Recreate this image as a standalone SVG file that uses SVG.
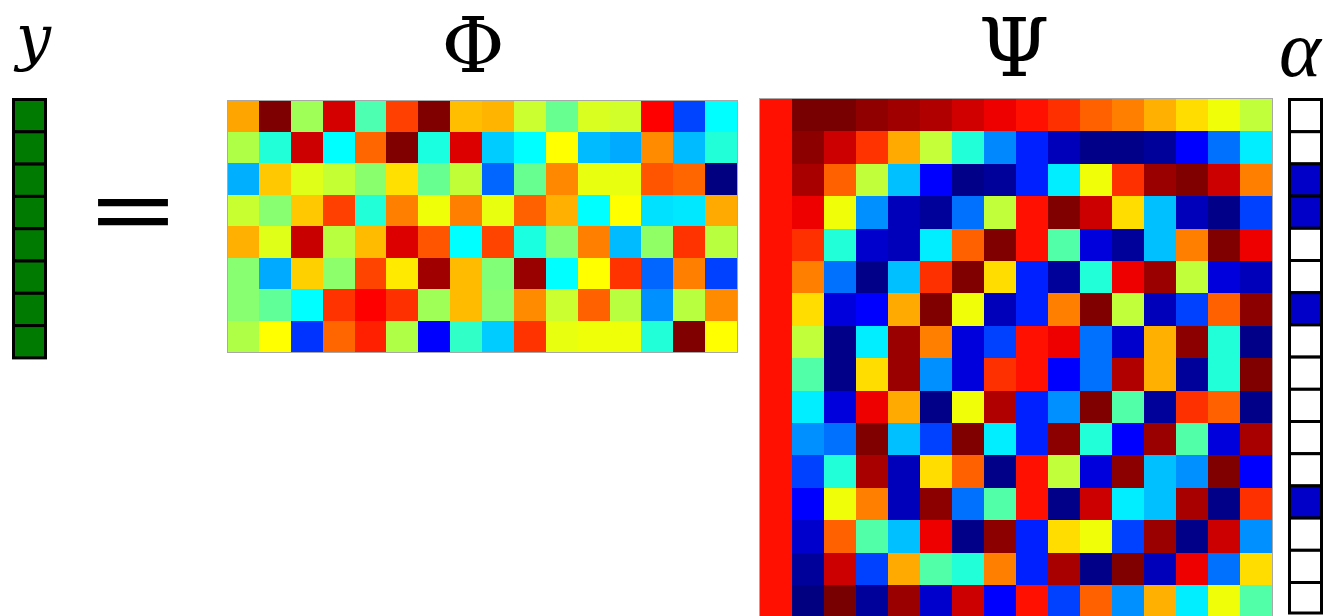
<svg xmlns="http://www.w3.org/2000/svg" width="1334" height="616" viewBox="0 0 1334 616">
<style>
.lbl{font-family:"DejaVu Serif","Liberation Serif",serif;fill:#000}
.lib{font-family:"Liberation Serif","DejaVu Serif",serif}
.it{font-style:italic}
.mat{shape-rendering:crispEdges}
.vec rect{stroke:#000;stroke-width:3}
.g{fill:#007a00}
.w{fill:#fff}
.b{fill:#0000c8}
.frame{fill:none;stroke:#a8a8a8;stroke-width:1}
</style>
<rect width="1334" height="616" fill="#fff"/>
<g id="connectors"/>
<g id="y-label"><text class="lbl it" x="16" y="58" font-size="62">y</text></g>
<g id="y-vector" class="vec">
<rect class="g" x="13.5" y="99.5" width="32" height="32.3"/>
<rect class="g" x="13.5" y="131.8" width="32" height="32.3"/>
<rect class="g" x="13.5" y="164.1" width="32" height="32.3"/>
<rect class="g" x="13.5" y="196.4" width="32" height="32.3"/>
<rect class="g" x="13.5" y="228.7" width="32" height="32.3"/>
<rect class="g" x="13.5" y="261" width="32" height="32.3"/>
<rect class="g" x="13.5" y="293.3" width="32" height="32.3"/>
<rect class="g" x="13.5" y="325.6" width="32" height="32.3"/>
</g>
<g id="equals"><text class="lbl lib" transform="translate(133,244) scale(1.5,1)" font-size="95" text-anchor="middle" stroke="#000" stroke-width="2.4">=</text></g>
<g id="phi-label"><text class="lbl" x="473" y="71.5" font-size="77" text-anchor="middle">Φ</text></g>
<g id="psi-label"><text class="lbl" x="1014" y="75.5" font-size="81" text-anchor="middle">Ψ</text></g>
<g id="alpha-label"><text class="lbl lib it" x="1279" y="76" font-size="80">α</text></g>
<g id="phi" class="mat">
<g transform="translate(0,100)">
<rect x="227" width="32" height="31.6" fill="#ffa500"/><rect x="258.875" width="32" height="31.6" fill="#7f0000"/><rect x="290.75" width="32" height="31.6" fill="#a0ff57"/><rect x="322.625" width="32" height="31.6" fill="#d40000"/><rect x="354.5" width="32" height="31.6" fill="#4dffb0"/><rect x="386.375" width="32" height="31.6" fill="#ff4000"/><rect x="418.25" width="32" height="31.6" fill="#800000"/><rect x="450.125" width="32" height="31.6" fill="#ffbf00"/><rect x="482" width="32" height="31.6" fill="#ffb400"/><rect x="513.875" width="32" height="31.6" fill="#ccff30"/><rect x="545.75" width="32" height="31.6" fill="#66ff90"/><rect x="577.625" width="32" height="31.6" fill="#d8ff20"/><rect x="609.5" width="32" height="31.6" fill="#d0ff2a"/><rect x="641.375" width="32" height="31.6" fill="#ff0000"/><rect x="673.25" width="32" height="31.6" fill="#0044ff"/><rect x="705.125" width="31.875" height="31.6" fill="#00ffff"/>
</g>
<g transform="translate(0,131.5)">
<rect x="227" width="32" height="31.6" fill="#b0ff47"/><rect x="258.875" width="32" height="31.6" fill="#20ffd8"/><rect x="290.75" width="32" height="31.6" fill="#cc0000"/><rect x="322.625" width="32" height="31.6" fill="#00ffff"/><rect x="354.5" width="32" height="31.6" fill="#ff6600"/><rect x="386.375" width="32" height="31.6" fill="#800000"/><rect x="418.25" width="32" height="31.6" fill="#1affe0"/><rect x="450.125" width="32" height="31.6" fill="#dd0000"/><rect x="482" width="32" height="31.6" fill="#00ccff"/><rect x="513.875" width="32" height="31.6" fill="#00ffff"/><rect x="545.75" width="32" height="31.6" fill="#ffff00"/><rect x="577.625" width="32" height="31.6" fill="#00bbff"/><rect x="609.5" width="32" height="31.6" fill="#00aaff"/><rect x="641.375" width="32" height="31.6" fill="#ff8c00"/><rect x="673.25" width="32" height="31.6" fill="#00bbff"/><rect x="705.125" width="31.875" height="31.6" fill="#20ffd8"/>
</g>
<g transform="translate(0,163)">
<rect x="227" width="32" height="31.6" fill="#00b0ff"/><rect x="258.875" width="32" height="31.6" fill="#ffc800"/><rect x="290.75" width="32" height="31.6" fill="#dfff18"/><rect x="322.625" width="32" height="31.6" fill="#c4ff33"/><rect x="354.5" width="32" height="31.6" fill="#8aff6d"/><rect x="386.375" width="32" height="31.6" fill="#ffe000"/><rect x="418.25" width="32" height="31.6" fill="#66ff90"/><rect x="450.125" width="32" height="31.6" fill="#c0ff37"/><rect x="482" width="32" height="31.6" fill="#0066ff"/><rect x="513.875" width="32" height="31.6" fill="#66ff90"/><rect x="545.75" width="32" height="31.6" fill="#ff8800"/><rect x="577.625" width="32" height="31.6" fill="#e8ff10"/><rect x="609.5" width="32" height="31.6" fill="#e8ff10"/><rect x="641.375" width="32" height="31.6" fill="#ff5500"/><rect x="673.25" width="32" height="31.6" fill="#ff6600"/><rect x="705.125" width="31.875" height="31.6" fill="#000080"/>
</g>
<g transform="translate(0,194.5)">
<rect x="227" width="32" height="31.6" fill="#c8ff30"/><rect x="258.875" width="32" height="31.6" fill="#88ff70"/><rect x="290.75" width="32" height="31.6" fill="#ffc800"/><rect x="322.625" width="32" height="31.6" fill="#ff4000"/><rect x="354.5" width="32" height="31.6" fill="#20ffd8"/><rect x="386.375" width="32" height="31.6" fill="#ff8000"/><rect x="418.25" width="32" height="31.6" fill="#efff08"/><rect x="450.125" width="32" height="31.6" fill="#ff8000"/><rect x="482" width="32" height="31.6" fill="#e8ff10"/><rect x="513.875" width="32" height="31.6" fill="#ff6000"/><rect x="545.75" width="32" height="31.6" fill="#ffb000"/><rect x="577.625" width="32" height="31.6" fill="#00ffff"/><rect x="609.5" width="32" height="31.6" fill="#ffff00"/><rect x="641.375" width="32" height="31.6" fill="#00e0ff"/><rect x="673.25" width="32" height="31.6" fill="#00e8ff"/><rect x="705.125" width="31.875" height="31.6" fill="#ffaa00"/>
</g>
<g transform="translate(0,226)">
<rect x="227" width="32" height="31.6" fill="#ffb000"/><rect x="258.875" width="32" height="31.6" fill="#e0ff18"/><rect x="290.75" width="32" height="31.6" fill="#c80000"/><rect x="322.625" width="32" height="31.6" fill="#b8ff40"/><rect x="354.5" width="32" height="31.6" fill="#ffbb00"/><rect x="386.375" width="32" height="31.6" fill="#dd0000"/><rect x="418.25" width="32" height="31.6" fill="#ff5500"/><rect x="450.125" width="32" height="31.6" fill="#00ffff"/><rect x="482" width="32" height="31.6" fill="#ff4400"/><rect x="513.875" width="32" height="31.6" fill="#1affe0"/><rect x="545.75" width="32" height="31.6" fill="#88ff70"/><rect x="577.625" width="32" height="31.6" fill="#ff8000"/><rect x="609.5" width="32" height="31.6" fill="#00bbff"/><rect x="641.375" width="32" height="31.6" fill="#90ff66"/><rect x="673.25" width="32" height="31.6" fill="#ff3300"/><rect x="705.125" width="31.875" height="31.6" fill="#b8ff40"/>
</g>
<g transform="translate(0,257.5)">
<rect x="227" width="32" height="31.6" fill="#88ff70"/><rect x="258.875" width="32" height="31.6" fill="#00aaff"/><rect x="290.75" width="32" height="31.6" fill="#ffd000"/><rect x="322.625" width="32" height="31.6" fill="#8cff6a"/><rect x="354.5" width="32" height="31.6" fill="#ff4400"/><rect x="386.375" width="32" height="31.6" fill="#ffea00"/><rect x="418.25" width="32" height="31.6" fill="#a00000"/><rect x="450.125" width="32" height="31.6" fill="#ffbb00"/><rect x="482" width="32" height="31.6" fill="#80ff77"/><rect x="513.875" width="32" height="31.6" fill="#990000"/><rect x="545.75" width="32" height="31.6" fill="#00ffff"/><rect x="577.625" width="32" height="31.6" fill="#ffff00"/><rect x="609.5" width="32" height="31.6" fill="#ff3300"/><rect x="641.375" width="32" height="31.6" fill="#0066ff"/><rect x="673.25" width="32" height="31.6" fill="#ff8000"/><rect x="705.125" width="31.875" height="31.6" fill="#0040ff"/>
</g>
<g transform="translate(0,289)">
<rect x="227" width="32" height="31.6" fill="#88ff70"/><rect x="258.875" width="32" height="31.6" fill="#60ff98"/><rect x="290.75" width="32" height="31.6" fill="#00ffff"/><rect x="322.625" width="32" height="31.6" fill="#ff3300"/><rect x="354.5" width="32" height="31.6" fill="#ff0000"/><rect x="386.375" width="32" height="31.6" fill="#ff3000"/><rect x="418.25" width="32" height="31.6" fill="#a0ff57"/><rect x="450.125" width="32" height="31.6" fill="#ffbb00"/><rect x="482" width="32" height="31.6" fill="#88ff70"/><rect x="513.875" width="32" height="31.6" fill="#ff8c00"/><rect x="545.75" width="32" height="31.6" fill="#ccff30"/><rect x="577.625" width="32" height="31.6" fill="#ff6000"/><rect x="609.5" width="32" height="31.6" fill="#b8ff40"/><rect x="641.375" width="32" height="31.6" fill="#0090ff"/><rect x="673.25" width="32" height="31.6" fill="#b8ff40"/><rect x="705.125" width="31.875" height="31.6" fill="#ff8c00"/>
</g>
<g transform="translate(0,320.5)">
<rect x="227" width="32" height="31.5" fill="#b0ff47"/><rect x="258.875" width="32" height="31.5" fill="#ffff00"/><rect x="290.75" width="32" height="31.5" fill="#0033ff"/><rect x="322.625" width="32" height="31.5" fill="#ff6600"/><rect x="354.5" width="32" height="31.5" fill="#ff2000"/><rect x="386.375" width="32" height="31.5" fill="#b0ff47"/><rect x="418.25" width="32" height="31.5" fill="#0000ff"/><rect x="450.125" width="32" height="31.5" fill="#30ffc8"/><rect x="482" width="32" height="31.5" fill="#00ccff"/><rect x="513.875" width="32" height="31.5" fill="#ff3300"/><rect x="545.75" width="32" height="31.5" fill="#e8ff10"/><rect x="577.625" width="32" height="31.5" fill="#eeff08"/><rect x="609.5" width="32" height="31.5" fill="#eeff08"/><rect x="641.375" width="32" height="31.5" fill="#20ffd8"/><rect x="673.25" width="32" height="31.5" fill="#800000"/><rect x="705.125" width="31.875" height="31.5" fill="#ffff00"/>
</g>
<rect class="frame" x="227" y="100" width="510" height="252"/>
</g>
<g id="psi" class="mat">
<rect x="760" y="99" width="32" height="518" fill="#ff1000"/>
<g transform="translate(0,99)">
<rect x="792" width="32" height="32.5" fill="#780000"/><rect x="824" width="32" height="32.5" fill="#780000"/><rect x="856" width="32" height="32.5" fill="#900000"/><rect x="888" width="32" height="32.5" fill="#a00000"/><rect x="920" width="32" height="32.5" fill="#b00000"/><rect x="952" width="32" height="32.5" fill="#d00000"/><rect x="984" width="32" height="32.5" fill="#ee0000"/><rect x="1016" width="32" height="32.5" fill="#ff1000"/><rect x="1048" width="32" height="32.5" fill="#ff3000"/><rect x="1080" width="32" height="32.5" fill="#ff6000"/><rect x="1112" width="32" height="32.5" fill="#ff8000"/><rect x="1144" width="32" height="32.5" fill="#ffb000"/><rect x="1176" width="32" height="32.5" fill="#ffdd00"/><rect x="1208" width="32" height="32.5" fill="#f0ff08"/><rect x="1240" width="32" height="32.5" fill="#c0ff3a"/>
</g>
<g transform="translate(0,131.4)">
<rect x="792" width="32" height="32.5" fill="#8c0000"/><rect x="824" width="32" height="32.5" fill="#cc0000"/><rect x="856" width="32" height="32.5" fill="#ff3300"/><rect x="888" width="32" height="32.5" fill="#ffaa00"/><rect x="920" width="32" height="32.5" fill="#c4ff3a"/><rect x="952" width="32" height="32.5" fill="#20ffd8"/><rect x="984" width="32" height="32.5" fill="#0088ff"/><rect x="1016" width="32" height="32.5" fill="#0020ff"/><rect x="1048" width="32" height="32.5" fill="#0000bb"/><rect x="1080" width="32" height="32.5" fill="#000088"/><rect x="1112" width="32" height="32.5" fill="#000088"/><rect x="1144" width="32" height="32.5" fill="#00009a"/><rect x="1176" width="32" height="32.5" fill="#0000ff"/><rect x="1208" width="32" height="32.5" fill="#0070ff"/><rect x="1240" width="32" height="32.5" fill="#00eeff"/>
</g>
<g transform="translate(0,163.8)">
<rect x="792" width="32" height="32.5" fill="#a80000"/><rect x="824" width="32" height="32.5" fill="#ff6000"/><rect x="856" width="32" height="32.5" fill="#c0ff3a"/><rect x="888" width="32" height="32.5" fill="#00c0ff"/><rect x="920" width="32" height="32.5" fill="#0000ff"/><rect x="952" width="32" height="32.5" fill="#000088"/><rect x="984" width="32" height="32.5" fill="#00009a"/><rect x="1016" width="32" height="32.5" fill="#0020ff"/><rect x="1048" width="32" height="32.5" fill="#00eeff"/><rect x="1080" width="32" height="32.5" fill="#f0ff08"/><rect x="1112" width="32" height="32.5" fill="#ff3000"/><rect x="1144" width="32" height="32.5" fill="#9a0000"/><rect x="1176" width="32" height="32.5" fill="#800000"/><rect x="1208" width="32" height="32.5" fill="#cc0000"/><rect x="1240" width="32" height="32.5" fill="#ff8000"/>
</g>
<g transform="translate(0,196.2)">
<rect x="792" width="32" height="32.5" fill="#ee0000"/><rect x="824" width="32" height="32.5" fill="#f0ff08"/><rect x="856" width="32" height="32.5" fill="#0090ff"/><rect x="888" width="32" height="32.5" fill="#0000bb"/><rect x="920" width="32" height="32.5" fill="#00009a"/><rect x="952" width="32" height="32.5" fill="#0070ff"/><rect x="984" width="32" height="32.5" fill="#c0ff3a"/><rect x="1016" width="32" height="32.5" fill="#ff1000"/><rect x="1048" width="32" height="32.5" fill="#800000"/><rect x="1080" width="32" height="32.5" fill="#cc0000"/><rect x="1112" width="32" height="32.5" fill="#ffdd00"/><rect x="1144" width="32" height="32.5" fill="#00c0ff"/><rect x="1176" width="32" height="32.5" fill="#0000bb"/><rect x="1208" width="32" height="32.5" fill="#000088"/><rect x="1240" width="32" height="32.5" fill="#0040ff"/>
</g>
<g transform="translate(0,228.6)">
<rect x="792" width="32" height="32.5" fill="#ff3000"/><rect x="824" width="32" height="32.5" fill="#20ffd8"/><rect x="856" width="32" height="32.5" fill="#0000cc"/><rect x="888" width="32" height="32.5" fill="#0000bb"/><rect x="920" width="32" height="32.5" fill="#00eeff"/><rect x="952" width="32" height="32.5" fill="#ff6000"/><rect x="984" width="32" height="32.5" fill="#800000"/><rect x="1016" width="32" height="32.5" fill="#ff1000"/><rect x="1048" width="32" height="32.5" fill="#50ffa8"/><rect x="1080" width="32" height="32.5" fill="#0000dd"/><rect x="1112" width="32" height="32.5" fill="#00009a"/><rect x="1144" width="32" height="32.5" fill="#00c0ff"/><rect x="1176" width="32" height="32.5" fill="#ff8000"/><rect x="1208" width="32" height="32.5" fill="#800000"/><rect x="1240" width="32" height="32.5" fill="#ee0000"/>
</g>
<g transform="translate(0,261)">
<rect x="792" width="32" height="32.5" fill="#ff8000"/><rect x="824" width="32" height="32.5" fill="#0070ff"/><rect x="856" width="32" height="32.5" fill="#000088"/><rect x="888" width="32" height="32.5" fill="#00c0ff"/><rect x="920" width="32" height="32.5" fill="#ff3000"/><rect x="952" width="32" height="32.5" fill="#800000"/><rect x="984" width="32" height="32.5" fill="#ffdd00"/><rect x="1016" width="32" height="32.5" fill="#0020ff"/><rect x="1048" width="32" height="32.5" fill="#00009a"/><rect x="1080" width="32" height="32.5" fill="#20ffd8"/><rect x="1112" width="32" height="32.5" fill="#ee0000"/><rect x="1144" width="32" height="32.5" fill="#9a0000"/><rect x="1176" width="32" height="32.5" fill="#c0ff3a"/><rect x="1208" width="32" height="32.5" fill="#0000dd"/><rect x="1240" width="32" height="32.5" fill="#0000bb"/>
</g>
<g transform="translate(0,293.4)">
<rect x="792" width="32" height="32.5" fill="#ffdd00"/><rect x="824" width="32" height="32.5" fill="#0000dd"/><rect x="856" width="32" height="32.5" fill="#0000ff"/><rect x="888" width="32" height="32.5" fill="#ffaa00"/><rect x="920" width="32" height="32.5" fill="#800000"/><rect x="952" width="32" height="32.5" fill="#f0ff08"/><rect x="984" width="32" height="32.5" fill="#0000bb"/><rect x="1016" width="32" height="32.5" fill="#0020ff"/><rect x="1048" width="32" height="32.5" fill="#ff8000"/><rect x="1080" width="32" height="32.5" fill="#800000"/><rect x="1112" width="32" height="32.5" fill="#c0ff3a"/><rect x="1144" width="32" height="32.5" fill="#0000bb"/><rect x="1176" width="32" height="32.5" fill="#0040ff"/><rect x="1208" width="32" height="32.5" fill="#ff6000"/><rect x="1240" width="32" height="32.5" fill="#8c0000"/>
</g>
<g transform="translate(0,325.8)">
<rect x="792" width="32" height="32.5" fill="#c0ff3a"/><rect x="824" width="32" height="32.5" fill="#000088"/><rect x="856" width="32" height="32.5" fill="#00eeff"/><rect x="888" width="32" height="32.5" fill="#9a0000"/><rect x="920" width="32" height="32.5" fill="#ff8000"/><rect x="952" width="32" height="32.5" fill="#0000dd"/><rect x="984" width="32" height="32.5" fill="#0040ff"/><rect x="1016" width="32" height="32.5" fill="#ff1000"/><rect x="1048" width="32" height="32.5" fill="#ee0000"/><rect x="1080" width="32" height="32.5" fill="#0070ff"/><rect x="1112" width="32" height="32.5" fill="#0000cc"/><rect x="1144" width="32" height="32.5" fill="#ffb000"/><rect x="1176" width="32" height="32.5" fill="#8c0000"/><rect x="1208" width="32" height="32.5" fill="#20ffd8"/><rect x="1240" width="32" height="32.5" fill="#000088"/>
</g>
<g transform="translate(0,358.2)">
<rect x="792" width="32" height="32.5" fill="#50ffa8"/><rect x="824" width="32" height="32.5" fill="#000088"/><rect x="856" width="32" height="32.5" fill="#ffdd00"/><rect x="888" width="32" height="32.5" fill="#9a0000"/><rect x="920" width="32" height="32.5" fill="#0090ff"/><rect x="952" width="32" height="32.5" fill="#0000dd"/><rect x="984" width="32" height="32.5" fill="#ff3000"/><rect x="1016" width="32" height="32.5" fill="#ff1000"/><rect x="1048" width="32" height="32.5" fill="#0000ff"/><rect x="1080" width="32" height="32.5" fill="#0070ff"/><rect x="1112" width="32" height="32.5" fill="#b00000"/><rect x="1144" width="32" height="32.5" fill="#ffb000"/><rect x="1176" width="32" height="32.5" fill="#00009a"/><rect x="1208" width="32" height="32.5" fill="#20ffd8"/><rect x="1240" width="32" height="32.5" fill="#800000"/>
</g>
<g transform="translate(0,390.6)">
<rect x="792" width="32" height="32.5" fill="#00eeff"/><rect x="824" width="32" height="32.5" fill="#0000dd"/><rect x="856" width="32" height="32.5" fill="#ee0000"/><rect x="888" width="32" height="32.5" fill="#ffaa00"/><rect x="920" width="32" height="32.5" fill="#000088"/><rect x="952" width="32" height="32.5" fill="#f0ff08"/><rect x="984" width="32" height="32.5" fill="#b00000"/><rect x="1016" width="32" height="32.5" fill="#0020ff"/><rect x="1048" width="32" height="32.5" fill="#0090ff"/><rect x="1080" width="32" height="32.5" fill="#800000"/><rect x="1112" width="32" height="32.5" fill="#50ffa8"/><rect x="1144" width="32" height="32.5" fill="#00009a"/><rect x="1176" width="32" height="32.5" fill="#ff3000"/><rect x="1208" width="32" height="32.5" fill="#ff6000"/><rect x="1240" width="32" height="32.5" fill="#000088"/>
</g>
<g transform="translate(0,423)">
<rect x="792" width="32" height="32.5" fill="#0090ff"/><rect x="824" width="32" height="32.5" fill="#0070ff"/><rect x="856" width="32" height="32.5" fill="#800000"/><rect x="888" width="32" height="32.5" fill="#00c0ff"/><rect x="920" width="32" height="32.5" fill="#0040ff"/><rect x="952" width="32" height="32.5" fill="#800000"/><rect x="984" width="32" height="32.5" fill="#00eeff"/><rect x="1016" width="32" height="32.5" fill="#0020ff"/><rect x="1048" width="32" height="32.5" fill="#8c0000"/><rect x="1080" width="32" height="32.5" fill="#20ffd8"/><rect x="1112" width="32" height="32.5" fill="#0000ff"/><rect x="1144" width="32" height="32.5" fill="#9a0000"/><rect x="1176" width="32" height="32.5" fill="#50ffa8"/><rect x="1208" width="32" height="32.5" fill="#0000dd"/><rect x="1240" width="32" height="32.5" fill="#a80000"/>
</g>
<g transform="translate(0,455.4)">
<rect x="792" width="32" height="32.5" fill="#0040ff"/><rect x="824" width="32" height="32.5" fill="#20ffd8"/><rect x="856" width="32" height="32.5" fill="#a80000"/><rect x="888" width="32" height="32.5" fill="#0000bb"/><rect x="920" width="32" height="32.5" fill="#ffdd00"/><rect x="952" width="32" height="32.5" fill="#ff6000"/><rect x="984" width="32" height="32.5" fill="#000088"/><rect x="1016" width="32" height="32.5" fill="#ff1000"/><rect x="1048" width="32" height="32.5" fill="#c0ff3a"/><rect x="1080" width="32" height="32.5" fill="#0000dd"/><rect x="1112" width="32" height="32.5" fill="#8c0000"/><rect x="1144" width="32" height="32.5" fill="#00c0ff"/><rect x="1176" width="32" height="32.5" fill="#0090ff"/><rect x="1208" width="32" height="32.5" fill="#800000"/><rect x="1240" width="32" height="32.5" fill="#0000ff"/>
</g>
<g transform="translate(0,487.8)">
<rect x="792" width="32" height="32.5" fill="#0000ff"/><rect x="824" width="32" height="32.5" fill="#f0ff08"/><rect x="856" width="32" height="32.5" fill="#ff8000"/><rect x="888" width="32" height="32.5" fill="#0000bb"/><rect x="920" width="32" height="32.5" fill="#8c0000"/><rect x="952" width="32" height="32.5" fill="#0070ff"/><rect x="984" width="32" height="32.5" fill="#50ffa8"/><rect x="1016" width="32" height="32.5" fill="#ff1000"/><rect x="1048" width="32" height="32.5" fill="#000088"/><rect x="1080" width="32" height="32.5" fill="#cc0000"/><rect x="1112" width="32" height="32.5" fill="#00eeff"/><rect x="1144" width="32" height="32.5" fill="#00c0ff"/><rect x="1176" width="32" height="32.5" fill="#a80000"/><rect x="1208" width="32" height="32.5" fill="#000088"/><rect x="1240" width="32" height="32.5" fill="#ff3000"/>
</g>
<g transform="translate(0,520.2)">
<rect x="792" width="32" height="32.5" fill="#0000cc"/><rect x="824" width="32" height="32.5" fill="#ff6000"/><rect x="856" width="32" height="32.5" fill="#50ffa8"/><rect x="888" width="32" height="32.5" fill="#00c0ff"/><rect x="920" width="32" height="32.5" fill="#ee0000"/><rect x="952" width="32" height="32.5" fill="#000088"/><rect x="984" width="32" height="32.5" fill="#8c0000"/><rect x="1016" width="32" height="32.5" fill="#0020ff"/><rect x="1048" width="32" height="32.5" fill="#ffdd00"/><rect x="1080" width="32" height="32.5" fill="#f0ff08"/><rect x="1112" width="32" height="32.5" fill="#0040ff"/><rect x="1144" width="32" height="32.5" fill="#9a0000"/><rect x="1176" width="32" height="32.5" fill="#000088"/><rect x="1208" width="32" height="32.5" fill="#cc0000"/><rect x="1240" width="32" height="32.5" fill="#0090ff"/>
</g>
<g transform="translate(0,552.6)">
<rect x="792" width="32" height="32.5" fill="#00009a"/><rect x="824" width="32" height="32.5" fill="#cc0000"/><rect x="856" width="32" height="32.5" fill="#0040ff"/><rect x="888" width="32" height="32.5" fill="#ffaa00"/><rect x="920" width="32" height="32.5" fill="#50ffa8"/><rect x="952" width="32" height="32.5" fill="#20ffd8"/><rect x="984" width="32" height="32.5" fill="#ff8000"/><rect x="1016" width="32" height="32.5" fill="#0020ff"/><rect x="1048" width="32" height="32.5" fill="#a80000"/><rect x="1080" width="32" height="32.5" fill="#000088"/><rect x="1112" width="32" height="32.5" fill="#800000"/><rect x="1144" width="32" height="32.5" fill="#0000bb"/><rect x="1176" width="32" height="32.5" fill="#ee0000"/><rect x="1208" width="32" height="32.5" fill="#0070ff"/><rect x="1240" width="32" height="32.5" fill="#ffdd00"/>
</g>
<g transform="translate(0,585)">
<rect x="792" width="32" height="32" fill="#000080"/><rect x="824" width="32" height="32" fill="#780000"/><rect x="856" width="32" height="32" fill="#00009a"/><rect x="888" width="32" height="32" fill="#9a0000"/><rect x="920" width="32" height="32" fill="#0000cc"/><rect x="952" width="32" height="32" fill="#cc0000"/><rect x="984" width="32" height="32" fill="#0000ff"/><rect x="1016" width="32" height="32" fill="#ff1000"/><rect x="1048" width="32" height="32" fill="#0040ff"/><rect x="1080" width="32" height="32" fill="#ff6000"/><rect x="1112" width="32" height="32" fill="#0090ff"/><rect x="1144" width="32" height="32" fill="#ffb000"/><rect x="1176" width="32" height="32" fill="#00eeff"/><rect x="1208" width="32" height="32" fill="#f0ff08"/><rect x="1240" width="32" height="32" fill="#50ffa8"/>
</g>
<rect class="frame" x="759.5" y="98.5" width="513" height="520"/>
</g>
<g id="alpha-vector" class="vec">
<rect class="w" x="1289.5" y="99.5" width="32" height="32.2"/>
<rect class="w" x="1289.5" y="131.7" width="32" height="32.2"/>
<rect class="b" x="1289.5" y="163.9" width="32" height="32.2"/>
<rect class="b" x="1289.5" y="196.1" width="32" height="32.2"/>
<rect class="w" x="1289.5" y="228.3" width="32" height="32.2"/>
<rect class="w" x="1289.5" y="260.5" width="32" height="32.2"/>
<rect class="b" x="1289.5" y="292.7" width="32" height="32.2"/>
<rect class="w" x="1289.5" y="324.9" width="32" height="32.2"/>
<rect class="w" x="1289.5" y="357.1" width="32" height="32.2"/>
<rect class="w" x="1289.5" y="389.3" width="32" height="32.2"/>
<rect class="w" x="1289.5" y="421.5" width="32" height="32.2"/>
<rect class="w" x="1289.5" y="453.7" width="32" height="32.2"/>
<rect class="b" x="1289.5" y="485.9" width="32" height="32.2"/>
<rect class="w" x="1289.5" y="518.1" width="32" height="32.2"/>
<rect class="w" x="1289.5" y="550.3" width="32" height="32.2"/>
<rect class="w" x="1289.5" y="582.5" width="32" height="30.5"/>
</g>
</svg>
